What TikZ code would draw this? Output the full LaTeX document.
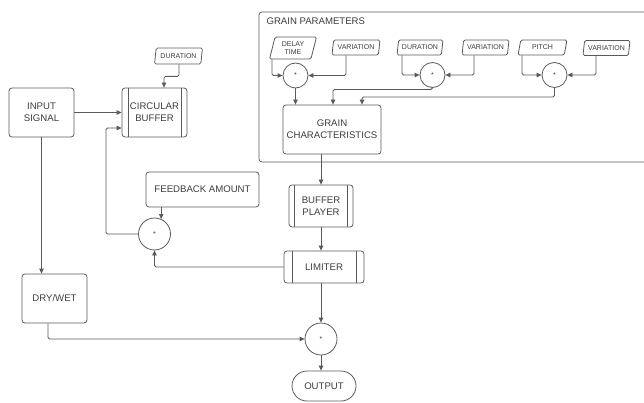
\documentclass[tikz,border=0pt]{standalone}
\usepackage{fontspec}
\setmainfont{Liberation Sans}
\usetikzlibrary{shapes.geometric,arrows.meta}
\definecolor{lc}{HTML}{5A5A5A}
\definecolor{tc}{HTML}{3C3C3C}
\tikzset{
  x=1pt,y=-1pt,
  ln/.style={draw=lc,line width=0.8pt},
  arr/.style={ln,-{Triangle[length=5pt,width=4.5pt]},rounded corners=1.5pt},
  lbl/.style={font=\fontsize{9.6}{11.7}\selectfont,text=tc,align=center},
  sml/.style={font=\fontsize{7}{8.2}\selectfont,text=tc,align=center},
  box/.style={ln,lbl,rectangle,rounded corners=3pt,inner sep=0pt},
  proc/.style={box,path picture={
      \draw[ln] ([xshift=#1]path picture bounding box.north west) -- ([xshift=#1]path picture bounding box.south west);
      \draw[ln] ([xshift=-#1]path picture bounding box.north east) -- ([xshift=-#1]path picture bounding box.south east);}},
  para/.style={ln,sml,trapezium,trapezium left angle=75,trapezium right angle=105,
      trapezium stretches=true,rounded corners=1.5pt,inner sep=0pt},
  mult/.style={ln,circle,inner sep=0pt,font=\fontsize{7}{8}\selectfont,text=tc},
}
\begin{document}
\begin{tikzpicture}
\clip (0,0) rectangle (644,403);
% grain parameters container
\node[ln,rectangle,rounded corners=3pt,minimum width=391pt,minimum height=150pt] (gp) at (454.5,87) {};
\node[lbl,anchor=west] (gptitle) at (263,21) {GRAIN PARAMETERS};

% left part
\node[box,minimum width=65pt,minimum height=49pt] (inp) at (41.5,112.5) {INPUT\\SIGNAL};
\node[proc=6pt,minimum width=65pt,minimum height=49pt] (cbuf) at (154.5,112.5) {CIRCULAR\\BUFFER};
\node[para,minimum width=48pt,minimum height=16pt] (dur0) at (178.5,56) {DURATION};
\node[box,minimum width=113pt,minimum height=35pt] (fbamt) at (202.5,189.5) {FEEDBACK AMOUNT};
\node[mult,minimum size=32pt] (fbc) at (154.5,234) {*};
\node[box,minimum width=65pt,minimum height=49pt] (dw) at (54.5,298.5) {DRY/WET};

% grain parameter inputs
\node[para,minimum width=47pt,minimum height=22pt] (delay) at (293,48) {DELAY\\TIME};
\node[para,minimum width=48pt,minimum height=15pt] (var1) at (356,47.5) {VARIATION};
\node[mult,minimum size=25pt] (c1) at (295.5,75.5) {*};
\node[para,minimum width=46pt,minimum height=15pt] (dur2) at (420,47.5) {DURATION};
\node[para,minimum width=47pt,minimum height=15pt] (var2) at (485.5,47.5) {VARIATION};
\node[mult,minimum size=25pt] (c2) at (432.5,75) {*};
\node[para,minimum width=49pt,minimum height=15pt] (pitch) at (542.5,47.5) {PITCH};
\node[para,minimum width=47pt,minimum height=15pt] (var3) at (606.5,48) {VARIATION};
\node[mult,minimum size=25pt] (c3) at (554.5,75) {*};
\node[box,minimum width=98pt,minimum height=49pt] (gchar) at (332,129.5) {GRAIN\\CHARACTERISTICS};

% right column
\node[proc=5.5pt,minimum width=64pt,minimum height=42pt] (bplay) at (321,206) {BUFFER\\PLAYER};
\node[proc=8pt,minimum width=80pt,minimum height=32pt] (lim) at (324,267) {LIMITER};
\node[mult,minimum size=32pt] (outc) at (321,339) {*};
\node[box,rounded corners=15pt,minimum width=64pt,minimum height=30pt] (out) at (324,386) {OUTPUT};

\coordinate (fbk) at (106,128);
\coordinate (g2) at (333,89.5);
\coordinate (g3) at (362,97);

% connectors left
\draw[arr] (inp) -- (cbuf);
\draw[arr] (dur0.south -| 179,0) -- ++(0,12) -| ([xshift=9.5pt]cbuf.north);
\draw[arr] (fbc.west) -| (fbk) -- (fbk -| cbuf.west);
\draw[arr] (fbc.66 |- fbamt.south) -- (fbc.66);
\draw[arr] (lim.west) -| (fbc.south);
\draw[arr] (inp.south) -- (inp.south |- dw.north);
\draw[arr] ([xshift=-6.5pt]dw.south) |- (outc.west);

% connectors grain
\draw[arr] (delay.south -| 272,0) |- (c1.west);
\draw[arr] (var1.south -| 346,0) |- (c1.east);
\draw[arr] (c1.south) -- (c1.south |- gchar.north);
\draw[arr] (dur2.south -| 402,0) |- (c2.west);
\draw[arr] (var2.south -| 474,0) |- (c2.east);
\draw[arr] (c2.south) |- (g2) -- (g2 |- gchar.north);
\draw[arr] (pitch.south -| 522,0) |- (c3.west);
\draw[arr] (var3.south -| 596,0) |- (c3.east);
\draw[arr] (c3.south) |- (g3) -- (g3 |- gchar.north);

% connectors right
\draw[arr] (gchar.south -| bplay.north) -- (bplay.north);
\draw[arr] (bplay.south) -- (bplay.south |- lim.north);
\draw[arr] (lim.south -| outc.north) -- (outc.north);
\draw[arr] (outc.south) -- (outc.south |- out.north);
\end{tikzpicture}
\end{document}
